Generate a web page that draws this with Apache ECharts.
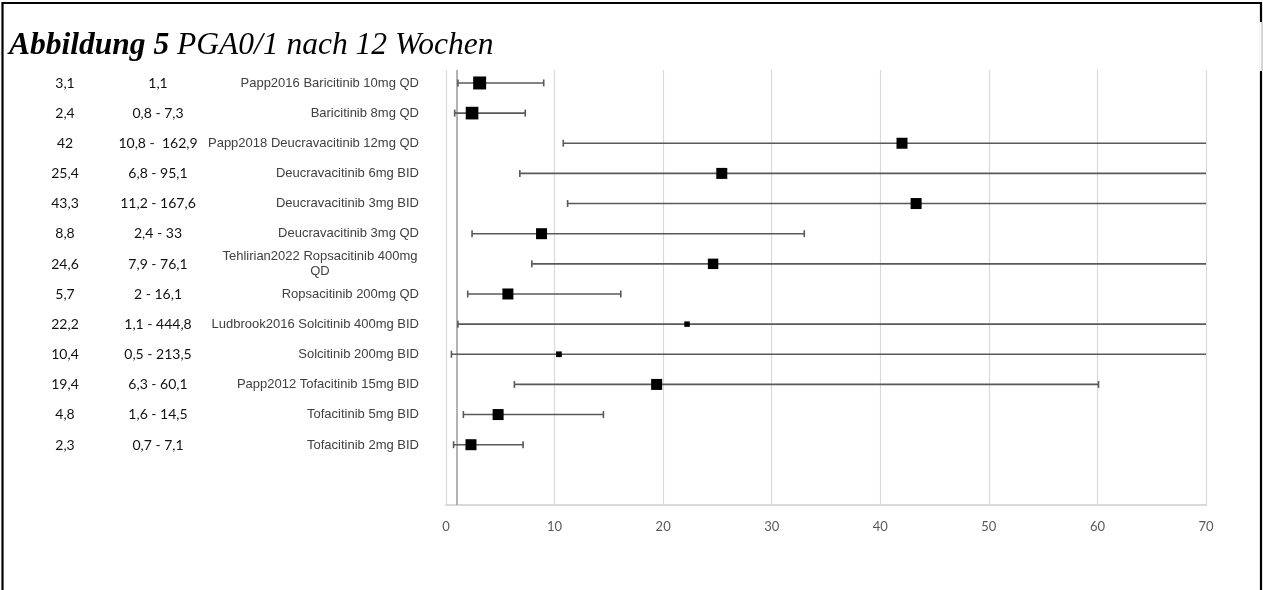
<!DOCTYPE html>
<html><head><meta charset="utf-8">
<script src="https://cdn.jsdelivr.net/npm/echarts@6/dist/echarts.min.js"></script>
<style>html,body{margin:0;padding:0;background:#fff}#c{width:1263px;height:590px}</style>
</head><body><div id="c"></div>
<script>
const studies = [
  'Papp2016 Baricitinib 10mg QD',
  'Baricitinib 8mg QD',
  'Papp2018 Deucravacitinib 12mg QD',
  'Deucravacitinib 6mg BID',
  'Deucravacitinib 3mg BID',
  'Deucravacitinib 3mg QD',
  'Tehlirian2022 Ropsacitinib 400mg\nQD',
  'Ropsacitinib 200mg QD',
  'Ludbrook2016 Solcitinib 400mg BID',
  'Solcitinib 200mg BID',
  'Papp2012 Tofacitinib 15mg BID',
  'Tofacitinib 5mg BID',
  'Tofacitinib 2mg BID'
];
const oddsRatio = [3.1, 2.4, 42, 25.4, 43.3, 8.8, 24.6, 5.7, 22.2, 10.4, 19.4, 4.8, 2.3];
const ciLower   = [1.1, 0.8, 10.8, 6.8, 11.2, 2.4, 7.9, 2, 1.1, 0.5, 6.3, 1.6, 0.7];
const ciUpper   = [9.0, 7.3, 162.9, 95.1, 167.6, 33, 76.1, 16.1, 444.8, 213.5, 60.1, 14.5, 7.1];
const studyWeight = [1.18, 1.15, 1, 1, 1, 1, 0.95, 1, 0.5, 0.52, 1, 1, 1];
const orLabels = ['3,1','2,4','42','25,4','43,3','8,8','24,6','5,7','22,2','10,4','19,4','4,8','2,3'];
const ciLabels = ['1,1','0,8 - 7,3','10,8 -  162,9','6,8 - 95,1','11,2 - 167,6','2,4 - 33','7,9 - 76,1','2 - 16,1','1,1 - 444,8','0,5 - 213,5','6,3 - 60,1','1,6 - 14,5','0,7 - 7,1'];
const xMin = 0, xMax = 70, xStep = 10;
const refValue = 1;

const rows = studies.map((s, i) => i);
const barData = rows.map(i => [ciLower[i], ciUpper[i], i]);
const pointData = rows.map(i => [oddsRatio[i], i, studyWeight[i]]);

const chart = echarts.init(document.getElementById('c'), null, {renderer: 'canvas'});
const GRID_L = 446, GRID_R = 57;
const labelAxisBase = {
  type: 'category', gridIndex: 1, inverse: true, data: studies, position: 'left', offset: 0,
  axisLine: {show: false}, axisTick: {show: false}, splitLine: {show: false}
};
const option = {
  animation: false,
  backgroundColor: '#fff',
  grid: [
    {left: GRID_L, right: GRID_R, top: 70, bottom: 85},
    {left: GRID_L, right: GRID_R, top: 67.9, height: 392.2}
  ],
  xAxis: [
    {type: 'value', gridIndex: 0, min: xMin, max: xMax, interval: xStep, position: 'bottom',
     axisLine: {show: true, onZero: false, lineStyle: {color: '#d9d9d9', width: 2}},
     axisTick: {show: false},
     splitLine: {show: true, lineStyle: {color: '#d9d9d9', width: 1.2}},
     axisLabel: {color: '#595959', fontFamily: 'Lato', fontSize: 13, margin: 15}},
    {type: 'value', gridIndex: 1, show: false, min: xMin, max: xMax}
  ],
  yAxis: [
    {type: 'value', gridIndex: 0, inverse: true, min: -0.43, max: 14, show: false},
    Object.assign({}, labelAxisBase, {
      axisLabel: {align: 'right', margin: 27, color: '#404040', fontFamily: 'Liberation Sans', fontSize: 13, lineHeight: 15,
        formatter: v => v.indexOf('\n') >= 0 ? '{c|' + v + '}' : v,
        rich: {c: {width: 198, align: 'center', color: '#404040', fontFamily: 'Liberation Sans', fontSize: 13, lineHeight: 15}}}
    }),
    Object.assign({}, labelAxisBase, {
      axisLabel: {align: 'center', margin: 381, color: '#111', fontFamily: 'Lato', fontSize: 14,
        formatter: (v, i) => orLabels[i]}
    }),
    Object.assign({}, labelAxisBase, {
      axisLabel: {align: 'center', margin: 288, color: '#111', fontFamily: 'Lato', fontSize: 14,
        formatter: (v, i) => ciLabels[i]}
    })
  ],
  graphic: [
    {type: 'rect', z: 100, shape: {x: 2.5, y: 3, width: 1258.5, height: 700},
     style: {fill: 'none', stroke: '#000', lineWidth: 2.2}},
    {type: 'line', z: 101, shape: {x1: 1261, y1: 22, x2: 1261, y2: 71}, style: {stroke: '#fff', lineWidth: 3}},
    {type: 'line', z: 102, shape: {x1: 1262, y1: 22, x2: 1262, y2: 71}, style: {stroke: '#b0b0b0', lineWidth: 1}},
    {type: 'text', z: 100, left: 9, top: 30,
     style: {text: '{b|Abbildung 5 }{n|PGA0/1 nach 12 Wochen}',
       rich: {
         b: {fontFamily: 'Liberation Serif', fontSize: 31.5, fontWeight: 'bold', fontStyle: 'italic', fill: '#000'},
         n: {fontFamily: 'Liberation Serif', fontSize: 31.5, fontStyle: 'italic', fill: '#000'}
       }}}
  ],
  series: [
    {
      type: 'custom', xAxisIndex: 0, yAxisIndex: 0, data: barData, z: 2,
      encode: {x: [0, 1], y: 2},
      renderItem: (params, api) => {
        const lo = api.value(0), hi = api.value(1), row = api.value(2);
        const p0 = api.coord([lo, row]);
        const p1 = api.coord([Math.min(hi, xMax), row]);
        const h = 3.5;
        const st = {stroke: '#595959', lineWidth: 1.6};
        const children = [
          {type: 'line', shape: {x1: p0[0], y1: p0[1], x2: p1[0], y2: p1[1]}, style: st},
          {type: 'line', shape: {x1: p0[0], y1: p0[1] - h, x2: p0[0], y2: p0[1] + h}, style: st}
        ];
        if (hi <= xMax) children.push({type: 'line', shape: {x1: p1[0], y1: p1[1] - h, x2: p1[0], y2: p1[1] + h}, style: st});
        return {type: 'group', children};
      }
    },
    {
      type: 'scatter', xAxisIndex: 0, yAxisIndex: 0, data: pointData, z: 3,
      symbol: 'rect', symbolSize: v => 11 * v[2],
      itemStyle: {color: '#000', opacity: 1},
      markLine: {silent: true, symbol: ['none', 'none'], label: {show: false}, z: 1,
        lineStyle: {color: '#a0a0a0', width: 1.6, type: 'solid'},
        data: [{xAxis: refValue}]}
    }
  ]
};
chart.setOption(option);
</script></body></html>
